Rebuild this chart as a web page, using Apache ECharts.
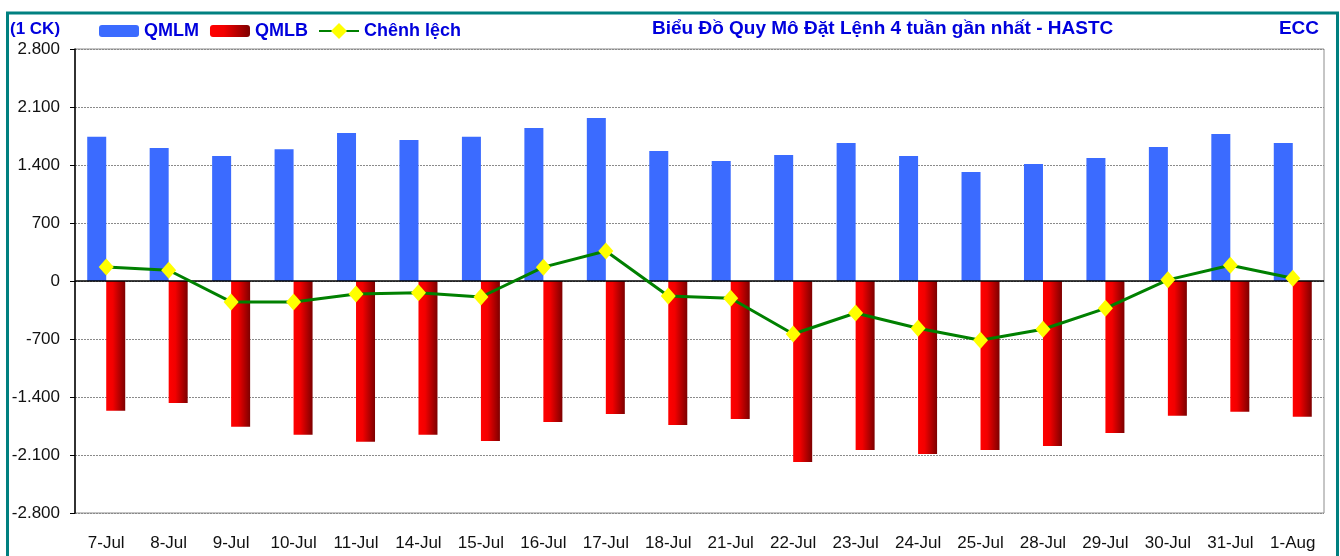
<!DOCTYPE html>
<html>
<head>
<meta charset="utf-8">
<script src="https://cdn.jsdelivr.net/npm/echarts@6/dist/echarts.min.js"></script>
<style>
	html, body { margin: 0; padding: 0; background: #fff; }
	#orderChart { width: 1340px; height: 556px; }
</style>
</head>
<body>
<div id="orderChart"></div>
<script>
var days = [ '7-Jul', '8-Jul', '9-Jul', '10-Jul', '11-Jul', '14-Jul', '15-Jul', '16-Jul', '17-Jul', '18-Jul',
	'21-Jul', '22-Jul', '23-Jul', '24-Jul', '25-Jul', '28-Jul', '29-Jul', '30-Jul', '31-Jul', '1-Aug' ];
var qmlm = [ 1740, 1605, 1509, 1590, 1786, 1702, 1740, 1847, 1967, 1569,
	1448, 1521, 1666, 1509, 1316, 1412, 1485, 1617, 1774, 1666 ];
var qmlb = [ -1565, -1473, -1758, -1855, -1940, -1855, -1931, -1702, -1605, -1738,
	-1666, -2185, -2040, -2088, -2040, -1992, -1835, -1626, -1577, -1638 ];
var chenhLech = [ 168, 130, -252, -254, -157, -142, -193, 167, 362, -180,
	-208, -640, -386, -570, -715, -582, -330, 14, 190, 34 ];
var yTicks = { min : -2800, max : 2800, step : 700 };

var blueText = '#0000dd';
var fontFam = 'Arial, "Liberation Sans", sans-serif';

var chart = echarts.init(document.getElementById('orderChart'));

var redFill = new echarts.graphic.LinearGradient(0, 0, 1, 0, [
	{ offset : 0, color : '#ff0000' },
	{ offset : 0.35, color : '#f20000' },
	{ offset : 1, color : '#7d0000' }
]);

// dot as thousands separator, like the original sheet
function fmt(v) {
	var s = String(Math.abs(v));
	s = s.replace(/\B(?=(\d{3})+(?!\d))/g, '.');
	return (v < 0 ? '-' : '') + s;
}

var legendText = { color : blueText, fontWeight : 'bold', fontSize : 18 };

var option = {
	animation : false,
	textStyle : { fontFamily : fontFam },
	graphic : [ {
		type : 'rect',
		shape : { x : 7.5, y : 13, width : 1330, height : 600 },
		style : { fill : 'none', stroke : '#008080', lineWidth : 3 },
		silent : true
	}, {
		type : 'text',
		left : 10,
		top : 21,
		style : { text : '(1 CK)', fill : blueText, font : 'bold 17px ' + fontFam }
	}, {
		type : 'text',
		left : 652,
		top : 19,
		style : { text : 'Biểu Đồ Quy Mô Đặt Lệnh 4 tuần gần nhất - HASTC', fill : blueText, font : 'bold 19px ' + fontFam }
	}, {
		type : 'text',
		right : 21,
		top : 19,
		style : { text : 'ECC', fill : blueText, font : 'bold 19px ' + fontFam }
	} ],
	legend : [ {
		left : 94,
		top : 17,
		itemWidth : 40,
		itemHeight : 12,
		itemGap : 11,
		textStyle : legendText,
		data : [ 'QMLM', 'QMLB' ]
	}, {
		left : 313,
		top : 17,
		itemWidth : 40,
		itemHeight : 20,
		textStyle : legendText,
		data : [ 'Chênh lệch' ]
	} ],
	grid : {
		left : 75,
		right : 16,
		top : 49,
		bottom : 43,
		show : true,
		borderColor : '#8c8c8c',
		borderWidth : 1,
		backgroundColor : '#fff'
	},
	xAxis : {
		type : 'category',
		data : days,
		axisLine : { show : false },
		axisTick : { show : false },
		axisLabel : { color : '#111', fontSize : 17, margin : 22, interval : 0 }
	},
	yAxis : {
		type : 'value',
		min : yTicks.min,
		max : yTicks.max,
		interval : yTicks.step,
		axisLine : { show : true, lineStyle : { color : '#000', width : 1.5 } },
		axisTick : { show : true, length : 5, lineStyle : { color : '#000' } },
		axisLabel : { color : '#111', fontSize : 17, margin : 15, formatter : fmt },
		splitLine : { show : true, lineStyle : { color : '#8a8a8a', type : [ 2, 1 ], width : 1 } }
	},
	series : [ {
		name : 'QMLM',
		type : 'bar',
		data : qmlm,
		barWidth : 19,
		barGap : '0%',
		itemStyle : { color : '#3b6bff' },
		markLine : {
			silent : true,
			symbol : 'none',
			label : { show : false },
			lineStyle : { color : '#000', type : 'solid', width : 1.5 },
			data : [ { yAxis : 0 } ]
		}
	}, {
		name : 'QMLB',
		type : 'bar',
		data : qmlb,
		barWidth : 19,
		itemStyle : { color : redFill }
	}, {
		name : 'Chênh lệch',
		type : 'line',
		data : chenhLech,
		z : 5,
		symbol : 'diamond',
		symbolSize : [ 15, 17 ],
		lineStyle : { color : '#008000', width : 3 },
		itemStyle : { color : '#ffff00', borderWidth : 0 }
	} ]
};
chart.setOption(option);

window.onresize = function() {
	chart.resize();
}
</script>
</body>
</html>
